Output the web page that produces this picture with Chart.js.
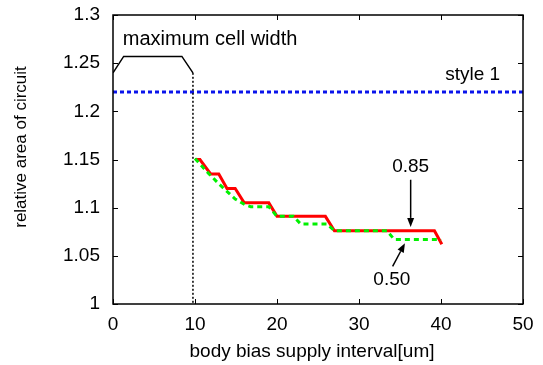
<!DOCTYPE html>
<html>
<head>
<meta charset="utf-8">
<script src="https://cdn.jsdelivr.net/npm/chart.js@4"></script>
<style>
  html, body { margin: 0; padding: 0; background: #fff; }
</style>
</head>
<body>
<canvas id="chart" width="543" height="365"></canvas>
<script>
// axis ticks
const xTicks = [0, 10, 20, 30, 40, 50];
const yTicks = [1, 1.05, 1.1, 1.15, 1.2, 1.25, 1.3];

// 0.85 curve (red, solid)
const redX = [10, 10.6, 11.9, 12.9, 13.9, 14.9, 16.0, 19.0, 20.0, 25.9, 27.0, 39.2, 40.1];
const redY = [1.150, 1.150, 1.135, 1.135, 1.120, 1.120, 1.105, 1.105, 1.091, 1.091, 1.076, 1.076, 1.062];

// 0.50 curve (green, dashed)
const greenX = [10, 11.6, 13.0, 14.9, 16.1, 16.8, 19.0, 20.0, 22.0, 22.9, 26.1, 27.0, 33.4, 34.3, 39.6, 40.0];
const greenY = [1.151, 1.136, 1.124, 1.109, 1.103, 1.101, 1.101, 1.091, 1.091, 1.083, 1.083, 1.076, 1.076, 1.067, 1.067, 1.066];

// style 1 reference level
const style1X = [0, 50];
const style1Y = [1.22, 1.22];

// maximum cell width outline + limit line
const maxCellX = [0, 1.3, 8.4, 9.75];
const maxCellY = [1.24, 1.257, 1.257, 1.24];
const limitX = [9.75, 9.75];
const limitY = [1.24, 1.0];

// text labels and arrows (data coords)
const notes = [
    { text: 'maximum cell width', x: 1.2, y: 1.2745, align: 'left', size: 20 },
    { text: 'style 1', x: 47.2, y: 1.238, align: 'right', size: 19 },
    { text: '0.85', x: 36.3, y: 1.1426, align: 'center', size: 19 },
    { text: '0.50', x: 34.0, y: 1.025, align: 'center', size: 19 }
];
const arrows = [
    { from: [36.3, 1.129], to: [36.3, 1.080] },
    { from: [34.1, 1.039], to: [35.6, 1.063] }
];

const FONT = '"Liberation Sans", Arial, sans-serif';

function pts(xs, ys) {
    return xs.map((x, i) => ({ x: x, y: ys[i] }));
}

const decorations = {
    id: 'decorations',
    afterDatasetsDraw(chart) {
        const { ctx, chartArea: a, scales: { x, y } } = chart;
        ctx.save();

        // frame
        ctx.strokeStyle = '#000';
        ctx.lineWidth = 1.5;
        ctx.strokeRect(a.left, a.top, a.right - a.left, a.bottom - a.top);

        // inward ticks, mirrored
        ctx.lineWidth = 1;
        ctx.beginPath();
        xTicks.forEach(v => {
            const px = Math.round(x.getPixelForValue(v)) + 0.5;
            ctx.moveTo(px, a.bottom); ctx.lineTo(px, a.bottom - 5);
            ctx.moveTo(px, a.top); ctx.lineTo(px, a.top + 5);
        });
        yTicks.forEach(v => {
            const py = Math.round(y.getPixelForValue(v)) + 0.5;
            ctx.moveTo(a.left, py); ctx.lineTo(a.left + 5, py);
            ctx.moveTo(a.right, py); ctx.lineTo(a.right - 5, py);
        });
        ctx.stroke();

        // labels
        ctx.fillStyle = '#000';
        ctx.textBaseline = 'middle';
        notes.forEach(n => {
            ctx.font = n.size + 'px ' + FONT;
            ctx.textAlign = n.align;
            ctx.fillText(n.text, x.getPixelForValue(n.x), y.getPixelForValue(n.y));
        });

        // arrows
        ctx.lineWidth = 1.5;
        arrows.forEach(ar => {
            const x0 = x.getPixelForValue(ar.from[0]), y0 = y.getPixelForValue(ar.from[1]);
            const x1 = x.getPixelForValue(ar.to[0]), y1 = y.getPixelForValue(ar.to[1]);
            const ang = Math.atan2(y1 - y0, x1 - x0);
            const len = 9, half = 3.5;
            const bx = x1 - len * Math.cos(ang), by = y1 - len * Math.sin(ang);
            ctx.beginPath();
            ctx.moveTo(x0, y0); ctx.lineTo(bx, by);
            ctx.stroke();
            ctx.beginPath();
            ctx.moveTo(x1, y1);
            ctx.lineTo(bx + half * Math.sin(ang), by - half * Math.cos(ang));
            ctx.lineTo(bx - half * Math.sin(ang), by + half * Math.cos(ang));
            ctx.closePath();
            ctx.fill();
        });

        // x axis title
        ctx.font = '19px ' + FONT;
        ctx.textAlign = 'center';
        ctx.fillText('body bias supply interval[um]', 312, 352);

        // y axis title
        ctx.font = '17px ' + FONT;
        ctx.translate(21, 147);
        ctx.rotate(-Math.PI / 2);
        ctx.fillText('relative area of circuit', 0, 0);

        ctx.restore();
    }
};

new Chart(document.getElementById('chart'), {
    type: 'line',
    data: {
        datasets: [
            { data: pts(maxCellX, maxCellY), borderColor: '#000', borderWidth: 1.5 },
            { data: pts(limitX, limitY), borderColor: '#000', borderWidth: 1.5, borderDash: [2, 2] },
            { data: pts(style1X, style1Y), borderColor: 'rgb(10,20,235)', borderWidth: 3, borderDash: [4, 3] },
            { data: pts(greenX, greenY), borderColor: 'rgb(0,240,0)', borderWidth: 3, borderDash: [5, 4] },
            { data: pts(redX, redY), borderColor: 'rgb(255,0,0)', borderWidth: 3 }
        ]
    },
    options: {
        responsive: false,
        animation: false,
        devicePixelRatio: 1,
        layout: { padding: { left: 0, top: 15, right: 20, bottom: 0 } },
        elements: { point: { radius: 0 }, line: { tension: 0, fill: false } },
        plugins: { legend: { display: false }, tooltip: { enabled: false } },
        scales: {
            x: {
                type: 'linear',
                min: 0,
                max: 50,
                grid: { display: false, drawTicks: false },
                border: { display: false },
                afterBuildTicks: s => { s.ticks = xTicks.map(v => ({ value: v })); },
                afterFit: s => { s.height = 61; s.paddingLeft = 0; s.paddingRight = 0; },
                ticks: {
                    padding: 9,
                    color: '#000',
                    font: { family: FONT, size: 19 },
                    maxRotation: 0
                }
            },
            y: {
                type: 'linear',
                min: 1,
                max: 1.3,
                grid: { display: false, drawTicks: false },
                border: { display: false },
                afterBuildTicks: s => { s.ticks = yTicks.map(v => ({ value: v })); },
                afterFit: s => { s.width = 113; s.paddingTop = 0; s.paddingBottom = 0; },
                ticks: {
                    padding: 13,
                    color: '#000',
                    font: { family: FONT, size: 19 },
                    callback: v => String(+v.toFixed(2))
                }
            }
        }
    },
    plugins: [decorations]
});
</script>
</body>
</html>
